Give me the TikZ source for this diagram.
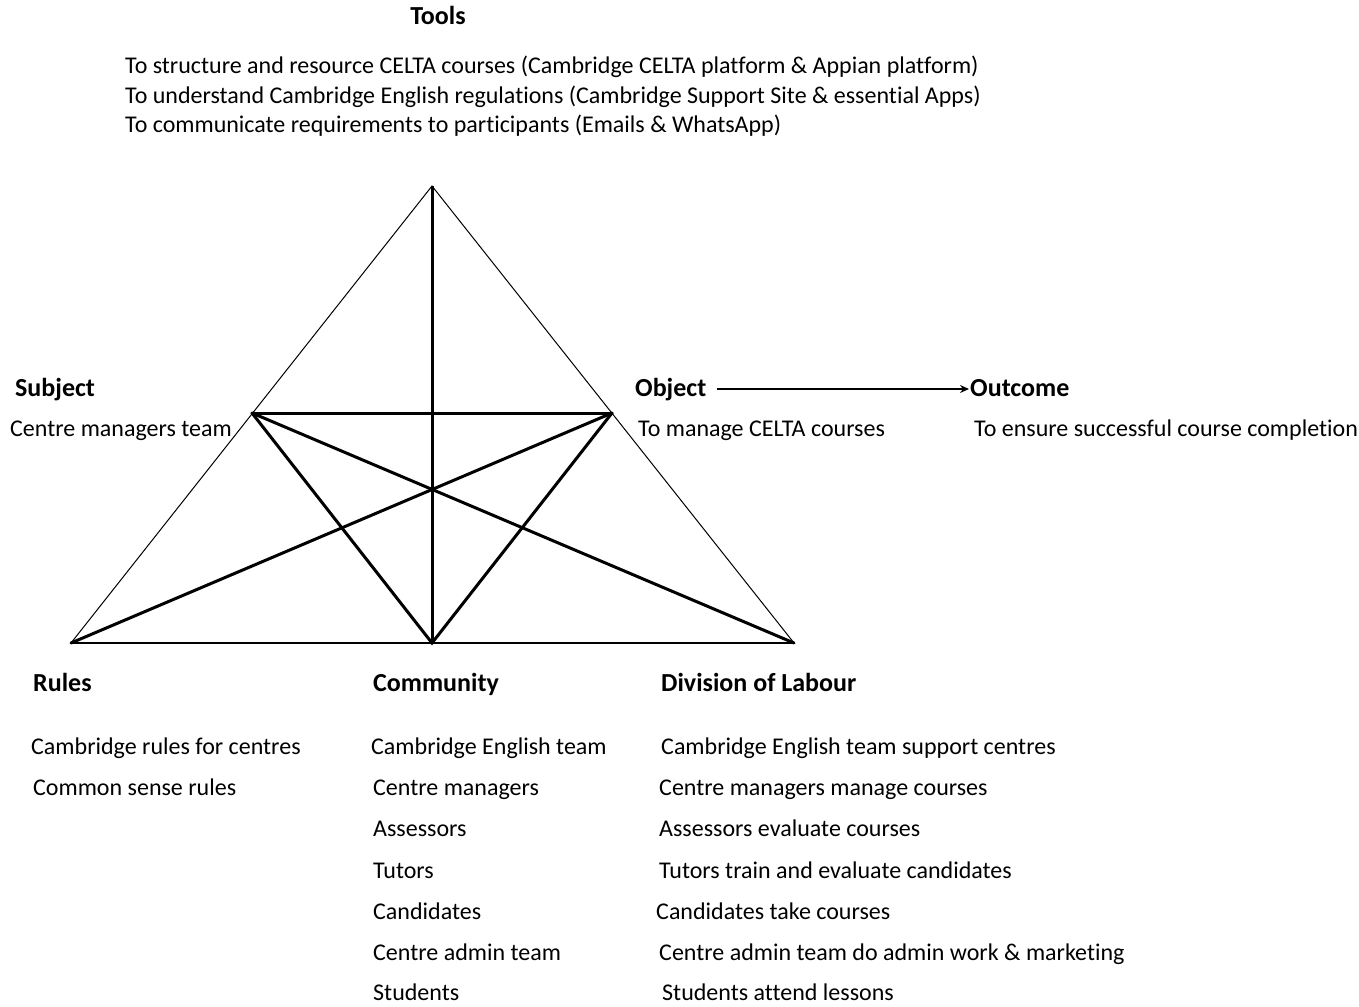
\documentclass[tikz,border=0pt]{standalone}
\usepackage{fontspec}
\setmainfont{Carlito}[Ligatures=NoCommon]
\usetikzlibrary{arrows.meta}
\begin{document}
\begin{tikzpicture}[x=1pt,y=-1pt,
  lbl/.style={anchor=base west,inner sep=0pt,font=\fontsize{24}{28}\selectfont},
  head/.style={lbl,font=\fontsize{26}{30}\selectfont\bfseries},
  thin/.style={line width=1pt},
  thick/.style={line width=3pt},
  base/.style={line width=2pt},
  flow/.style={line width=2pt,-{Stealth[length=9pt,width=8pt]}}]
\useasboundingbox (0,0) rectangle (1359,1006);

% triangle corners
\coordinate (T) at (432,186);
\coordinate (R) at (71,643);
\coordinate (C) at (432,643);
\coordinate (D) at (794,643);
\coordinate (S) at (252,413);
\coordinate (O) at (612,413);

% outer triangle
\draw[thin,line join=miter] (R) -- (T) -- (D);
\draw[base] (R) -- (D);

% inner connections
\draw[thick] (T) -- (C);
\draw[thick,line cap=round] (S) -- (O);
\draw[thick,line cap=round] (S) -- (C) -- (O);
\draw[thick,line cap=round] (S) -- (D);
\draw[thick,line cap=round] (O) -- (R);

% tools
\node[head,anchor=base] (tools) at (438,25) {Tools};
\node[lbl] (t1) at (125,74) {To structure and resource CELTA courses (Cambridge CELTA platform \& Appian platform)};
\node[lbl] (t2) at (125,103) {To understand Cambridge English regulations (Cambridge Support Site \& essential Apps)};
\node[lbl] (t3) at (125,132) {To communicate requirements to participants (Emails \& WhatsApp)};

% subject, object, outcome
\node[head] (subj) at (15,396) {Subject};
\node[lbl] (subjt) at (10,436) {Centre managers team};
\node[head] (obj) at (635,396) {Object};
\node[lbl] (objt) at (638,436) {To manage CELTA courses};
\node[head] (out) at (970,396) {Outcome};
\node[lbl] (outt) at (974,436) {To ensure successful course completion};
\draw[flow] ([xshift=10pt,yshift=7pt]obj.base east) -- ([xshift=-1pt,yshift=7pt]out.base west);

% rules
\node[head] (rules) at (33,691) {Rules};
\node[lbl] (r1) at (31,754) {Cambridge rules for centres};
\node[lbl] (r2) at (33,795) {Common sense rules};

% community
\node[head] (comm) at (373,691) {Community};
\node[lbl] (c1) at (371,754) {Cambridge English team};
\node[lbl] (c2) at (373,795) {Centre managers};
\node[lbl] (c3) at (373,836) {Assessors};
\node[lbl] (c4) at (373,878) {Tutors};
\node[lbl] (c5) at (373,919) {Candidates};
\node[lbl] (c6) at (373,960) {Centre admin team};
\node[lbl] (c7) at (373,1000) {Students};

% division of labour
\node[head] (dol) at (661,691) {Division of Labour};
\node[lbl] (d1) at (661,754) {Cambridge English team support centres};
\node[lbl] (d2) at (659,795) {Centre managers manage courses};
\node[lbl] (d3) at (659,836) {Assessors evaluate courses};
\node[lbl] (d4) at (659,878) {Tutors train and evaluate candidates};
\node[lbl] (d5) at (656,919) {Candidates take courses};
\node[lbl] (d6) at (659,960) {Centre admin team do admin work \& marketing};
\node[lbl] (d7) at (662,1000) {Students attend lessons};
\end{tikzpicture}
\end{document}
